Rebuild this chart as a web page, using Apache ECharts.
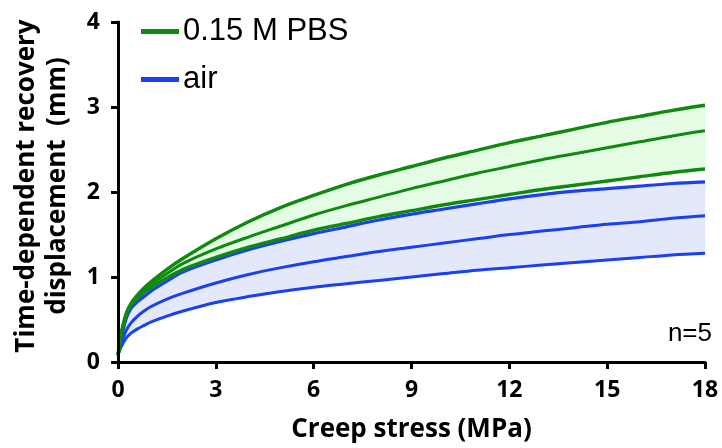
<!DOCTYPE html>
<html>
<head>
<meta charset="utf-8">
<script src="https://cdn.jsdelivr.net/npm/echarts@6/dist/echarts.min.js"></script>
<style>html,body{margin:0;padding:0;background:#fff}#c{width:722px;height:448px}</style>
</head>
<body>
<div id="c"></div>
<script>
// Creep stress (MPa)
const stress = [0, 0.1, 0.25, 0.4, 0.6, 0.8, 1, 1.5, 2, 3, 4, 5, 6, 7, 8, 9, 10, 11, 12, 13, 14, 15, 16, 17, 18];
// 0.15 M PBS: upper bound, mean, lower bound (mm)
const pbsUpper = [0.08, 0.34, 0.57, 0.69, 0.79, 0.87, 0.94, 1.09, 1.22, 1.45, 1.65, 1.82, 1.96, 2.09, 2.20, 2.30, 2.40, 2.49, 2.58, 2.66, 2.74, 2.82, 2.89, 2.96, 3.02];
const pbsMean  = [0.08, 0.33, 0.56, 0.68, 0.77, 0.84, 0.90, 1.04, 1.16, 1.33, 1.47, 1.60, 1.73, 1.84, 1.94, 2.04, 2.13, 2.22, 2.30, 2.38, 2.45, 2.52, 2.59, 2.66, 2.72];
const pbsLower = [0.08, 0.32, 0.55, 0.67, 0.75, 0.82, 0.87, 0.99, 1.09, 1.23, 1.35, 1.45, 1.55, 1.63, 1.71, 1.78, 1.85, 1.91, 1.97, 2.03, 2.08, 2.13, 2.18, 2.23, 2.27];
// air: upper bound, mean, lower bound (mm)
const airUpper = [0.08, 0.28, 0.51, 0.63, 0.71, 0.77, 0.83, 0.95, 1.06, 1.20, 1.32, 1.42, 1.51, 1.59, 1.67, 1.74, 1.80, 1.86, 1.92, 1.97, 2.01, 2.04, 2.07, 2.10, 2.12];
const airMean  = [0.08, 0.22, 0.37, 0.46, 0.54, 0.60, 0.65, 0.74, 0.81, 0.93, 1.03, 1.11, 1.18, 1.24, 1.30, 1.35, 1.40, 1.45, 1.50, 1.54, 1.58, 1.62, 1.65, 1.69, 1.72];
const airLower = [0.08, 0.18, 0.28, 0.34, 0.39, 0.43, 0.47, 0.54, 0.60, 0.70, 0.77, 0.83, 0.88, 0.92, 0.96, 1.00, 1.04, 1.08, 1.11, 1.14, 1.17, 1.20, 1.23, 1.26, 1.28];
const xTicks = [0, 3, 6, 9, 12, 15, 18];
const yTicks = [0, 1, 2, 3, 4];
const seriesNames = ['0.15 M PBS', 'air'];

const GREEN = '#0f8a0f', BLUE = '#1a3ff5';
const pair = (ys) => stress.map((x, i) => [x, ys[i]]);
const SM = 0.3;

const lineS = (name, ys, color, w) => ({
  name, type: 'line', data: pair(ys), showSymbol: false, smooth: SM,
  lineStyle: { color, width: w }, itemStyle: { color }, z: 10
});
// band fills: fill under upper bound, then mask under lower bound with white
const fillS = (name, ys, color, z) => ({
  name, type: 'line', data: pair(ys), showSymbol: false, smooth: SM, silent: true,
  lineStyle: { width: 0, opacity: 0 }, areaStyle: { color, opacity: 1 }, z
});

const axisFont = { fontFamily: 'Open Sans', fontWeight: 'bold', fontSize: 23, color: '#000' };

const chart = echarts.init(document.getElementById('c'), null, { renderer: 'canvas' });
chart.setOption({
  animation: false,
  grid: { left: 118, right: 17, top: 22, bottom: 84 },
  legend: {
    data: [
      { name: seriesNames[0], icon: 'rect', itemStyle: { color: GREEN } },
      { name: seriesNames[1], icon: 'rect', itemStyle: { color: BLUE } }
    ],
    orient: 'vertical', left: 141, top: 16, padding: 0, itemWidth: 38, itemHeight: 5, itemGap: 17,
    textStyle: { fontFamily: 'Liberation Sans', fontSize: 31, color: '#000', padding: [0, 0, 0, -1] }
  },
  xAxis: {
    type: 'value', min: 0, max: 18, interval: 3, z: 20,
    name: 'Creep stress (MPa)', nameLocation: 'middle', nameGap: 55,
    nameTextStyle: { fontFamily: 'Open Sans', fontWeight: 'bold', fontSize: 26, color: '#000' },
    axisLine: { show: true, lineStyle: { color: '#000', width: 3 } },
    axisTick: { show: true, length: 7, lineStyle: { color: '#000', width: 3 } },
    axisLabel: Object.assign({ margin: 17, formatter: v => xTicks.includes(v) ? String(v) : '' }, axisFont),
    splitLine: { show: false }
  },
  yAxis: {
    type: 'value', min: 0, max: 4, interval: 1, z: 20,
    axisLine: { show: true, lineStyle: { color: '#000', width: 3 } },
    axisTick: { show: true, length: 7, lineStyle: { color: '#000', width: 3 } },
    axisLabel: Object.assign({ margin: 18, formatter: v => yTicks.includes(v) ? String(v) : '' }, axisFont),
    splitLine: { show: false }
  },
  graphic: [
    { type: 'text', x: 42, y: 186, rotation: Math.PI / 2, z: 30,
      style: { text: 'Time-dependent recovery\ndisplacement  (mm)', fontFamily: 'Open Sans', fontWeight: 'bold',
        fontSize: 26, lineHeight: 31, fill: '#000', align: 'center', verticalAlign: 'middle' } },
    { type: 'text', right: 10, top: 321, z: 30,
      style: { text: 'n=5', fontFamily: 'Liberation Sans', fontSize: 26, fill: '#000' } }
  ],
  series: [
    fillS('pbsBandTop', pbsUpper, '#e4fbe4', 1),
    fillS('pbsBandMask', pbsLower, '#ffffff', 2),
    fillS('airBandTop', airUpper, '#e3e8fb', 3),
    fillS('airBandMask', airLower, '#ffffff', 4),
    lineS('airLowerLine', airLower, BLUE, 3),
    lineS(seriesNames[1], airMean, BLUE, 3),
    lineS('airUpperLine', airUpper, BLUE, 3.2),
    lineS('pbsLowerLine', pbsLower, GREEN, 3.4),
    lineS(seriesNames[0], pbsMean, GREEN, 3),
    lineS('pbsUpperLine', pbsUpper, GREEN, 3.4)
  ]
});
</script>
</body>
</html>
